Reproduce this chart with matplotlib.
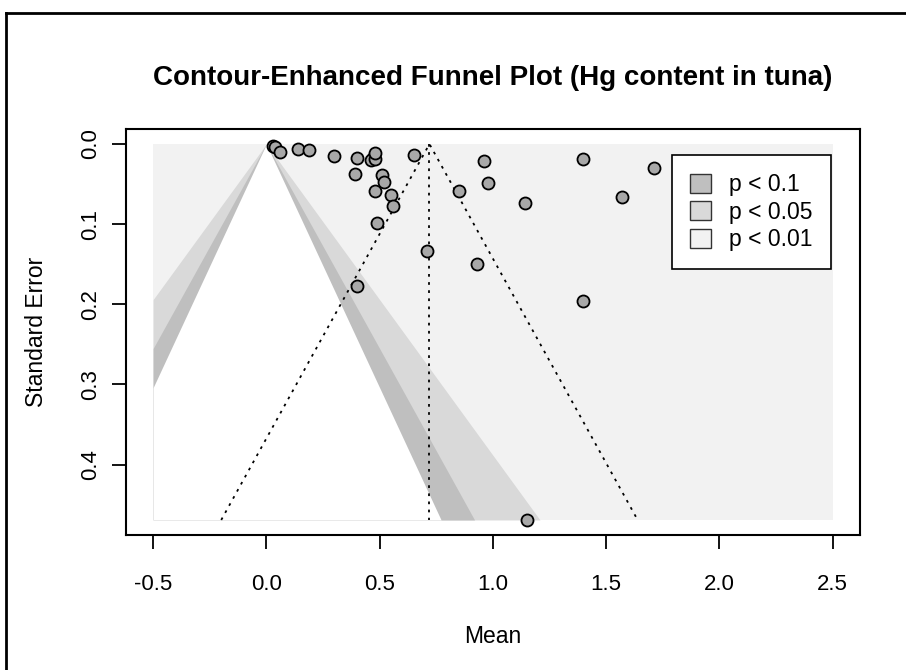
import numpy as np
import matplotlib.pyplot as plt
from matplotlib.patches import Patch
from matplotlib.lines import Line2D

plt.rcParams['font.family'] = ['Liberation Sans', 'DejaVu Sans']

# study means and standard errors
mean = [0.03, 0.04, 0.06, 0.14, 0.19, 0.30, 0.40, 0.47, 0.46, 0.48, 0.48,
        0.65, 0.96, 1.40, 1.71, 0.39, 0.51, 0.52, 0.48, 0.55, 0.56, 0.85,
        0.98, 1.57, 1.14, 0.49, 0.71, 0.93, 0.40, 1.40, 1.15]
se = [0.003, 0.004, 0.010, 0.006, 0.007, 0.015, 0.017, 0.018, 0.020, 0.019,
      0.011, 0.014, 0.021, 0.019, 0.030, 0.037, 0.039, 0.048, 0.058, 0.064,
      0.077, 0.058, 0.049, 0.066, 0.074, 0.099, 0.133, 0.150, 0.177, 0.196,
      0.469]
estimate = 0.72
refline = 0.0

levels = ['p < 0.1', 'p < 0.05', 'p < 0.01']
z_vals = [1.645, 1.960, 2.576]
shades = ['#bfbfbf', '#d9d9d9', '#f2f2f2']

xmin, xmax = -0.5, 2.5
semax = max(se)

fig = plt.figure(figsize=(9.06, 6.70), dpi=100)
ax = fig.add_axes([0.139, 0.2015, 0.810, 0.606])

# background and contour regions
ax.fill_between([xmin, xmax], 0, semax, color=shades[2], lw=0, zorder=0, antialiased=False)
s = np.linspace(0, semax, 400)
for z, col in zip(z_vals[::-1], [shades[1], shades[0], 'white']):
    lo = np.clip(refline - z * s, xmin, xmax)
    hi = np.clip(refline + z * s, xmin, xmax)
    ax.fill_betweenx(s, lo, hi, color=col, lw=0, zorder=1, antialiased=False)

# pseudo confidence funnel around the estimate
ax.plot([estimate, estimate], [0, semax], ls=(0, (1.5, 3)), color='black', lw=1.3, zorder=2)
ax.plot([estimate - 1.96 * semax, estimate, estimate + 1.96 * semax], [semax, 0, semax],
        ls=(0, (1.5, 3)), color='black', lw=1.3, zorder=2)

ax.scatter(mean, se, s=75, c='#a8a8a8', edgecolors='black', linewidths=1.3, zorder=3)

pad_x = 0.04 * (xmax - xmin)
ax.set_xlim(xmin - pad_x, xmax + pad_x)
ax.set_ylim(semax * 1.04, -0.04 * semax)
ax.set_xticks(np.arange(-0.5, 2.51, 0.5))
ax.set_xticklabels([f'{v:.1f}' for v in np.arange(-0.5, 2.51, 0.5)])
ax.set_yticks([0.0, 0.1, 0.2, 0.3, 0.4])
ax.set_yticklabels(['0.0', '0.1', '0.2', '0.3', '0.4'], rotation=90, va='center')
ax.tick_params(length=10, width=1.3, labelsize=16)
ax.tick_params(axis='x', pad=18)
ax.tick_params(axis='y', pad=8)
for sp in ax.spines.values():
    sp.set_linewidth(1.5)

ax.set_xlabel('Mean', fontsize=16.5, labelpad=22)
ax.set_ylabel('Standard Error', fontsize=16.5, labelpad=23)
ax.set_title('Contour-Enhanced Funnel Plot (Hg content in tuna)', fontsize=20,
             fontweight='bold', pad=32)

handles = [Patch(facecolor=c, edgecolor='#333333', lw=1) for c in shades]
leg = ax.legend(handles, levels, loc='upper right', bbox_to_anchor=(0.976, 0.965),
                fontsize=16.5, frameon=True, fancybox=False, edgecolor='black',
                framealpha=1, handlelength=0.9, handleheight=0.9, handletextpad=0.8,
                borderpad=0.8, labelspacing=0.2)
leg.get_frame().set_linewidth(1.2)

# outer border
fig.add_artist(Line2D([6 / 906, 1], [1 - 13 / 670, 1 - 13 / 670], color='black', lw=2))
fig.add_artist(Line2D([6 / 906, 6 / 906], [0, 1 - 13 / 670], color='black', lw=2))

fig.savefig('out.png', dpi=100)
